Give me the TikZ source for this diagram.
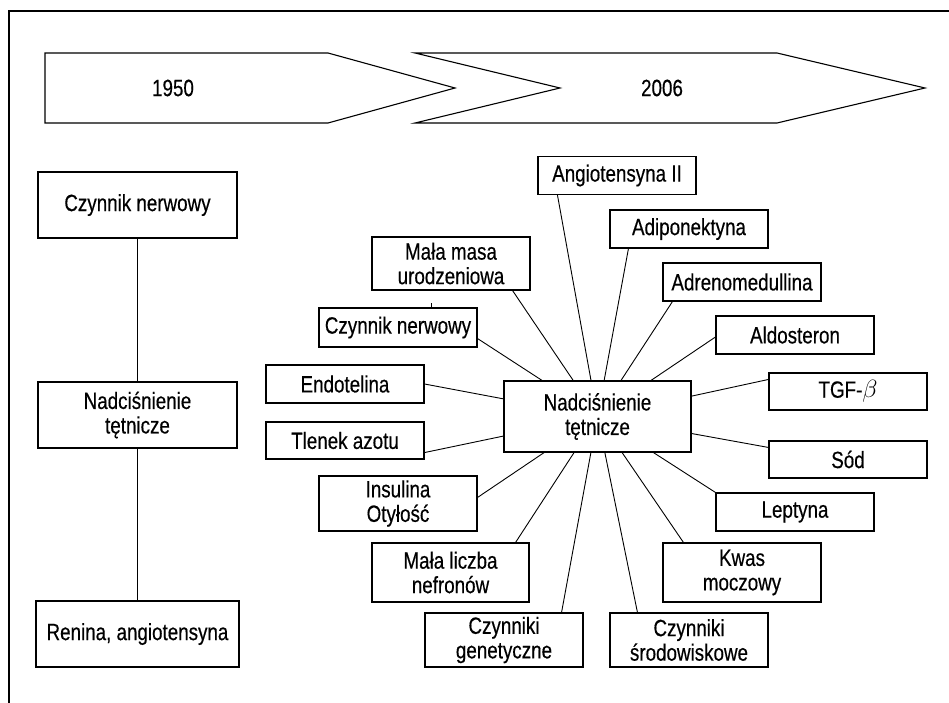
\documentclass[tikz,border=0pt]{standalone}
\usepackage{fontspec}
\setmainfont{Liberation Sans}[FakeStretch=0.8,FakeBold=0.4]
\usetikzlibrary{calc}
\begin{document}
\begin{tikzpicture}[x=1pt,y=-1pt,
  font=\fontsize{23.5}{24.5}\selectfont,
  box/.style={draw, line width=1.1pt, inner sep=0pt, align=center,
    minimum width=158pt, minimum height=38pt},
  tallbox/.style={box, minimum height=55pt},
  leftbox/.style={box, minimum width=199pt, minimum height=66pt},
  link/.style={line width=0.9pt},
  frame/.style={line width=1.1pt},
  timearrow/.style={draw, line width=1.1pt, line join=miter}]
\useasboundingbox (0,0) rectangle (949,703);
% frame
\draw[frame] (9,703) -- (9,11) -- (949,11);
% time arrows
\draw[timearrow] (45,53) -- (328,53) -- (455,88) -- (328,123) -- (45,123) -- cycle;
\draw[timearrow] (415,53) -- (777,53) -- (925,88) -- (777,123) -- (415,123) -- (560,88) -- cycle;
\node (y1950) at (173,88) {1950};
\node (y2006) at (662,88) {2006};
% left column
\node[leftbox] (l1) at (137.5,205) {Czynnik nerwowy};
\node[leftbox] (l2) at (137.5,415) {Nadciśnienie\\tętnicze};
\node[leftbox, minimum width=203pt] (l3) at (137.5,634) {Renina, angiotensyna};
\draw[link] (l1.south) -- (l2.north);
\draw[link] (l2.south) -- (l3.north);
% hub
\node[box, minimum width=187pt, minimum height=71pt] (hub) at (597.5,416.5) {Nadciśnienie\\tętnicze};
% satellites
\node[box] (ang) at (617,175.5) {Angiotensyna II};
\node[box] (adi) at (689,229) {Adiponektyna};
\node[box] (adr) at (742,282) {Adrenomedullina};
\node[box] (ald) at (795,335) {Aldosteron};
\node[box, minimum height=37pt] (tgf) at (848,391.5) {TGF-$\beta$};
\node[box, minimum height=37pt] (sod) at (848,459.5) {Sód};
\node[box] (lep) at (795,512) {Leptyna};
\node[box, minimum height=59pt] (kwas) at (742,572.5) {Kwas\\moczowy};
\node[box, minimum height=54pt] (srod) at (689,640) {Czynniki\\środowiskowe};
\node[box, minimum height=54pt] (gen) at (504,640) {Czynniki\\genetyczne};
\node[box, minimum width=157pt, minimum height=59pt] (licz) at (450.5,572.5) {Mała liczba\\nefronów};
\node[tallbox] (ins) at (398,503.5) {Insulina\\Otyłość};
\node[box, minimum height=37pt] (tle) at (345,440.5) {Tlenek azotu};
\node[box] (endo) at (345,384) {Endotelina};
\node[box, minimum height=39pt] (cn) at (398,327.5) {Czynnik nerwowy};
\node[box, minimum height=53pt] (masa) at (451,263.5) {Mała masa\\urodzeniowa};
% connectors
\draw[link] (hub) -- ($(ang.south west)+(20,0)$);
\draw[link] (hub) -- ($(adi.south west)+(19,0)$);
\draw[link] (hub) -- ($(adr.south west)+(10,0)$);
\draw[link] (hub) -- ($(ald.west)+(0,2)$);
\draw[link] (hub) -- ($(tgf.north west)+(0,7)$);
\draw[link] (hub) -- ($(sod.north west)+(0,7)$);
\draw[link] (hub) -- (lep.north west);
\draw[link] (hub) -- ($(kwas.north west)+(21,0)$);
\draw[link] (hub) -- ($(srod.north west)+(28,0)$);
\draw[link] (hub) -- ($(gen.north east)+(-22,0)$);
\draw[link] (hub) -- ($(licz.north east)+(-14,0)$);
\draw[link] (hub) -- ($(ins.north east)+(0,22)$);
\draw[link] (hub) -- ($(tle.south east)+(0,-7)$);
\draw[link] (hub) -- (endo.east);
\draw[link] (hub) -- ($(cn.south east)+(0,-9)$);
\draw[link] (hub) -- ($(masa.south east)+(-18,0)$);
% small stray tick above the box
\coordinate (tickA) at ($(cn.north west)+(113,-4)$);
\draw[link] (tickA) -- ($(cn.north west)+(113,0)$);
\end{tikzpicture}
\end{document}
